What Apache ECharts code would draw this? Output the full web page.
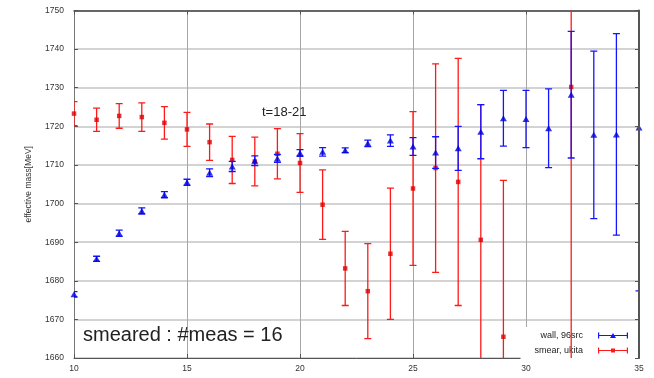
<!DOCTYPE html>
<html>
<head>
<meta charset="utf-8">
<title>effective mass</title>
<script src="https://cdn.jsdelivr.net/npm/echarts@6/dist/echarts.min.js"></script>
<style>
  html, body { margin: 0; padding: 0; background: #fff; }
  #chart { width: 654px; height: 378px; }
</style>
</head>
<body>
<div id="chart"></div>
<script>
// time slices (x axis)
const wallSteps = [10, 11, 12, 13, 14, 15, 16, 17, 18, 19, 20, 21, 22, 23, 24, 25, 26, 27, 28, 29, 30, 31, 32, 33, 34, 35];
// wall source, 96 sources: effective mass and its error [MeV]
const wallMass = [1676.5, 1685.7, 1692.3, 1698.1, 1702.3, 1705.5, 1708.0, 1709.6, 1711.1, 1711.7, 1713.1, 1713.4, 1713.8, 1715.6, 1716.3, 1714.8, 1713.2, 1714.3, 1718.6, 1722.1, 1721.9, 1719.5, 1728.2, 1717.8, 1717.9, 1719.7];
const wallErr  = [0.7, 0.65, 0.8, 0.8, 0.8, 0.8, 1.0, 1.3, 1.25, 1.0, 0.85, 1.1, 0.6, 0.85, 1.5, 2.3, 4.1, 5.7, 7.0, 7.2, 7.4, 10.2, 16.4, 21.7, 26.1, 42.3];

// smeared source (ukita): effective mass and its error [MeV]
const smearSteps = [10, 11, 12, 13, 14, 15, 16, 17, 18, 19, 20, 21, 22, 23, 24, 25, 26, 27, 28, 29, 32];
const smearMass = [1723.3, 1721.7, 1722.7, 1722.4, 1720.9, 1719.2, 1715.9, 1711.3, 1710.9, 1712.9, 1710.5, 1699.7, 1683.2, 1677.3, 1687.0, 1703.9, 1709.2, 1705.6, 1690.6, 1665.5, 1730.2];
const smearErr  = [3.1, 3.0, 3.2, 3.7, 4.2, 4.4, 4.7, 6.1, 6.3, 6.5, 7.6, 9.0, 9.6, 12.3, 17.0, 19.9, 27.0, 32.0, 35.0, 40.5, 95.0];

// axis ticks
const xTicks = [10, 15, 20, 25, 30, 35];
const yTicks = [1660, 1670, 1680, 1690, 1700, 1710, 1720, 1730, 1740, 1750];

const seriesNames = ['wall, 96src', 'smear, ukita'];
const annotation = 't=18-21';
const caption = 'smeared : #meas = 16';

const BLUE = '#1414ff';
const RED = '#ff1a1a';
const FONT = '"Liberation Sans", Arial, sans-serif';

function zip3(xs, ys, es) {
  return xs.map((x, i) => [x, ys[i], es[i]]);
}

// vertical error bar with caps
function errorBar(color) {
  return function (params, api) {
    const x = api.value(0);
    const y = api.value(1);
    const e = api.value(2);
    const hi = api.coord([x, y + e]);
    const lo = api.coord([x, y - e]);
    const w = 3.5;
    const style = { stroke: color, lineWidth: 1.3 };
    return {
      type: 'group',
      children: [
        { type: 'line', shape: { x1: hi[0], y1: hi[1], x2: lo[0], y2: lo[1] }, style },
        { type: 'line', shape: { x1: hi[0] - w, y1: hi[1], x2: hi[0] + w, y2: hi[1] }, style },
        { type: 'line', shape: { x1: lo[0] - w, y1: lo[1], x2: lo[0] + w, y2: lo[1] }, style }
      ]
    };
  };
}

// legend keys: bar with caps plus the point marker
const wallIcon = 'path://M0 2.5H30V3.5H0Z M0 0H1.2V6H0Z M28.8 0H30V6H28.8Z M15 0.5L18 5.5L12 5.5Z';
const smearIcon = 'path://M0 2.5H30V3.5H0Z M0 0H1.2V6H0Z M28.8 0H30V6H28.8Z M13 1H17V5H13Z';

const wallData = zip3(wallSteps, wallMass, wallErr);
const smearData = zip3(smearSteps, smearMass, smearErr);

const chart = echarts.init(document.getElementById('chart'), null, { renderer: 'canvas' });

const axisText = { color: '#333', fontSize: 8.5, fontFamily: FONT };
const plain = v => String(v);

chart.setOption({
  animation: false,
  backgroundColor: '#fff',
  grid: { left: 74, right: 15, top: 10.5, bottom: 20, containLabel: false },
  xAxis: [
    {
      type: 'value', min: xTicks[0], max: xTicks[xTicks.length - 1], interval: 5,
      axisLine: { show: true, lineStyle: { color: '#555', width: 1 } },
      axisTick: { show: true, inside: true, length: 4, lineStyle: { color: '#555' } },
      axisLabel: { ...axisText, margin: 6, formatter: plain },
      splitLine: { show: true, lineStyle: { color: '#a6a6a6', width: 1 } }
    },
    {
      type: 'value', position: 'top', min: xTicks[0], max: xTicks[xTicks.length - 1], interval: 5,
      axisLine: { show: true, lineStyle: { color: '#444', width: 1.5 } },
      axisTick: { show: true, inside: true, length: 4, lineStyle: { color: '#555' } },
      axisLabel: { show: false },
      splitLine: { show: false }
    }
  ],
  yAxis: [
    {
      type: 'value', min: yTicks[0], max: yTicks[yTicks.length - 1], interval: 10,
      name: 'effective mass[MeV]', nameLocation: 'middle', nameGap: 41,
      nameTextStyle: { color: '#333', fontSize: 8.5, fontFamily: FONT },
      axisLine: { show: true, lineStyle: { color: '#777', width: 1 } },
      axisTick: { show: true, inside: true, length: 4, lineStyle: { color: '#555' } },
      axisLabel: { ...axisText, margin: 10, formatter: plain },
      splitLine: { show: true, lineStyle: { color: '#c4c4c4', width: 1.6 } }
    },
    {
      type: 'value', position: 'right', min: yTicks[0], max: yTicks[yTicks.length - 1], interval: 10,
      z: 10,
      axisLine: { show: true, lineStyle: { color: '#555', width: 2 } },
      axisTick: { show: true, inside: true, length: 4, lineStyle: { color: '#555' } },
      axisLabel: { show: false },
      splitLine: { show: false }
    }
  ],
  legend: {
    orient: 'vertical',
    right: 16, top: 327,
    align: 'right',
    z: 1,
    backgroundColor: '#fff',
    padding: [4, 10, 4, 14],
    itemWidth: 30, itemHeight: 6, itemGap: 6,
    selectedMode: false,
    textStyle: { color: '#222', fontSize: 9, fontFamily: FONT, padding: [0, 10, 0, 0] },
    data: [
      { name: seriesNames[0], icon: wallIcon, itemStyle: { color: BLUE } },
      { name: seriesNames[1], icon: smearIcon, itemStyle: { color: RED } }
    ]
  },
  graphic: [
    {
      type: 'text', left: 262, top: 106, z: 10,
      style: { text: annotation, fill: '#222', fontSize: 13, fontFamily: FONT }
    },
    {
      type: 'text', left: 83, top: 325, z: 10,
      style: { text: caption, fill: '#222', fontSize: 20, fontFamily: FONT }
    }
  ],
  series: [
    {
      name: seriesNames[1], type: 'custom', clip: true, z: 3,
      itemStyle: { color: RED },
      renderItem: errorBar(RED),
      encode: { x: 0, y: 1 },
      data: smearData
    },
    {
      name: seriesNames[1], type: 'scatter', clip: true, z: 4,
      symbol: 'rect', symbolSize: 4.5,
      itemStyle: { color: '#e00000' },
      data: smearData.map(d => [d[0], d[1]])
    },
    {
      name: seriesNames[0], type: 'custom', clip: true, z: 5,
      itemStyle: { color: BLUE },
      renderItem: errorBar(BLUE),
      encode: { x: 0, y: 1 },
      data: wallData
    },
    {
      name: seriesNames[0], type: 'scatter', clip: true, z: 6,
      symbol: 'triangle', symbolSize: [7, 6],
      itemStyle: { color: '#0000dd' },
      data: wallData.map(d => [d[0], d[1]])
    }
  ]
});
</script>
</body>
</html>
